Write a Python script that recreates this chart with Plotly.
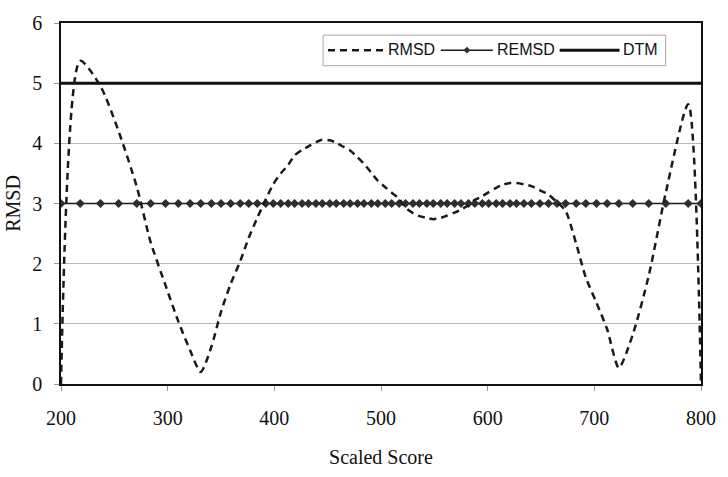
import plotly.graph_objects as go

# Scaled-score points at which the indices were computed
score = [200, 218, 237, 254, 271, 284, 298, 310, 321, 331, 341, 350, 359, 368,
         376, 384, 392, 399, 406, 413, 419, 426, 432, 439, 445, 452, 458, 465,
         471, 478, 484, 491, 497, 504, 510, 517, 523, 530, 536, 543, 549, 556,
         562, 569, 575, 582, 588, 595, 601, 608, 614, 621, 627, 634, 641, 649,
         657, 665, 673, 683, 692, 702, 712, 723, 736, 751, 767, 788, 800]

rmsd = [0.00, 5.37, 4.95, 4.20, 3.28, 2.36, 1.64, 1.04, 0.56, 0.20, 0.62, 1.20,
        1.66, 2.04, 2.43, 2.76, 3.07, 3.32, 3.50, 3.64, 3.80, 3.89, 3.95, 4.02,
        4.06, 4.05, 4.01, 3.94, 3.88, 3.77, 3.66, 3.51, 3.38, 3.27, 3.18, 3.08,
        2.93, 2.84, 2.79, 2.76, 2.74, 2.76, 2.80, 2.85, 2.90, 2.97, 3.06, 3.12,
        3.19, 3.26, 3.31, 3.34, 3.34, 3.32, 3.29, 3.22, 3.15, 3.02, 2.88, 2.33,
        1.77, 1.35, 0.91, 0.27, 0.82, 1.80, 3.18, 4.65, 0.00]

remsd = [3.0, 3.0, 3.0, 3.0, 3.0, 3.0, 3.0, 3.0, 3.0, 3.0, 3.0, 3.0, 3.0, 3.0,
         3.0, 3.0, 3.0, 3.0, 3.0, 3.0, 3.0, 3.0, 3.0, 3.0, 3.0, 3.0, 3.0, 3.0,
         3.0, 3.0, 3.0, 3.0, 3.0, 3.0, 3.0, 3.0, 3.0, 3.0, 3.0, 3.0, 3.0, 3.0,
         3.0, 3.0, 3.0, 3.0, 3.0, 3.0, 3.0, 3.0, 3.0, 3.0, 3.0, 3.0, 3.0, 3.0,
         3.0, 3.0, 3.0, 3.0, 3.0, 3.0, 3.0, 3.0, 3.0, 3.0, 3.0, 3.0, 3.0]

# "Difference That Matters" reference level
dtm_x = [200, 800]
dtm = [5.0, 5.0]

x_ticks = [200, 300, 400, 500, 600, 700, 800]
y_ticks = [0, 1, 2, 3, 4, 5, 6]

W, H = 728, 477
L, R, T, B = 60, 16, 17, 88
PW, PH = W - L - R, H - T - B

SERIF = "Liberation Serif, Times New Roman, serif"
SANS = "Liberation Sans, Arial, sans-serif"
DASH = "7px,5px"


def px(x):
    return (x - L) / PW


def py(y):
    return (H - B - y) / PH


fig = go.Figure()

fig.add_trace(go.Scatter(
    x=dtm_x, y=dtm, mode="lines", name="DTM",
    line=dict(color="#111111", width=3), showlegend=False))

fig.add_trace(go.Scatter(
    x=score, y=remsd, mode="lines+markers", name="REMSD",
    line=dict(color="#1a1a1a", width=1.5),
    marker=dict(symbol="diamond", size=7, color="#2e2e2e"),
    showlegend=False))

fig.add_trace(go.Scatter(
    x=score, y=rmsd, mode="lines", name="RMSD",
    line=dict(color="#1a1a1a", width=2.5, dash=DASH, shape="spline", smoothing=0.7),
    showlegend=False))

# Legend box drawn in paper space
shapes = [
    dict(type="rect", xref="paper", yref="paper",
         x0=px(327), x1=px(676), y0=py(61), y1=py(29.5),
         line=dict(color="#aaaaaa", width=1), fillcolor="white", layer="above"),
    dict(type="line", xref="paper", yref="paper",
         x0=px(332), x1=px(390), y0=py(45), y1=py(45),
         line=dict(color="#1a1a1a", width=2.5, dash=DASH), layer="above"),
    dict(type="line", xref="paper", yref="paper",
         x0=px(447), x1=px(500), y0=py(45), y1=py(45),
         line=dict(color="#1a1a1a", width=1.5), layer="above"),
    dict(type="path", xref="paper", yref="paper",
         path="M {a},{m} L {c},{t} L {d},{m} L {c},{b} Z".format(
             a=px(470), c=px(473.5), d=px(477),
             m=py(45), t=py(41.5), b=py(48.5)),
         line=dict(color="#2e2e2e", width=0), fillcolor="#2e2e2e", layer="above"),
    dict(type="line", xref="paper", yref="paper",
         x0=px(568), x1=px(629), y0=py(45), y1=py(45),
         line=dict(color="#111111", width=3), layer="above"),
]

annotations = []
for label, x0 in [("RMSD", 391), ("REMSD", 502), ("DTM", 630)]:
    annotations.append(dict(
        text=label, xref="paper", yref="paper", x=px(x0), y=py(44.5),
        xanchor="left", yanchor="middle", showarrow=False,
        font=dict(family=SANS, size=16, color="#111111")))

fig.update_layout(
    width=W, height=H,
    margin=dict(l=L, r=R, t=T, b=B),
    paper_bgcolor="white", plot_bgcolor="white",
    shapes=shapes, annotations=annotations,
    xaxis=dict(
        range=[200, 800], tickvals=x_ticks, ticktext=[str(v) for v in x_ticks],
        showgrid=False, zeroline=False,
        showline=True, linecolor="#111111", linewidth=1.5, mirror=True,
        ticks="outside", ticklen=5, tickcolor="#999999", tickwidth=1,
        ticklabelstandoff=10,
        tickfont=dict(family=SERIF, size=20, color="#111111"),
        title=dict(text="Scaled Score", standoff=22,
                   font=dict(family=SERIF, size=20, color="#111111")),
    ),
    yaxis=dict(
        range=[0, 6], tickvals=y_ticks, ticktext=[str(v) for v in y_ticks],
        showgrid=True, gridcolor="#b8b8b8", gridwidth=1, zeroline=False,
        showline=True, linecolor="#111111", linewidth=1.5, mirror=True,
        ticks="outside", ticklen=5, tickcolor="#999999", tickwidth=1,
        ticklabelstandoff=8,
        tickfont=dict(family=SERIF, size=20, color="#111111"),
        title=dict(text="RMSD", standoff=6,
                   font=dict(family=SERIF, size=20, color="#111111")),
    ),
)

fig.write_html("out.html")
